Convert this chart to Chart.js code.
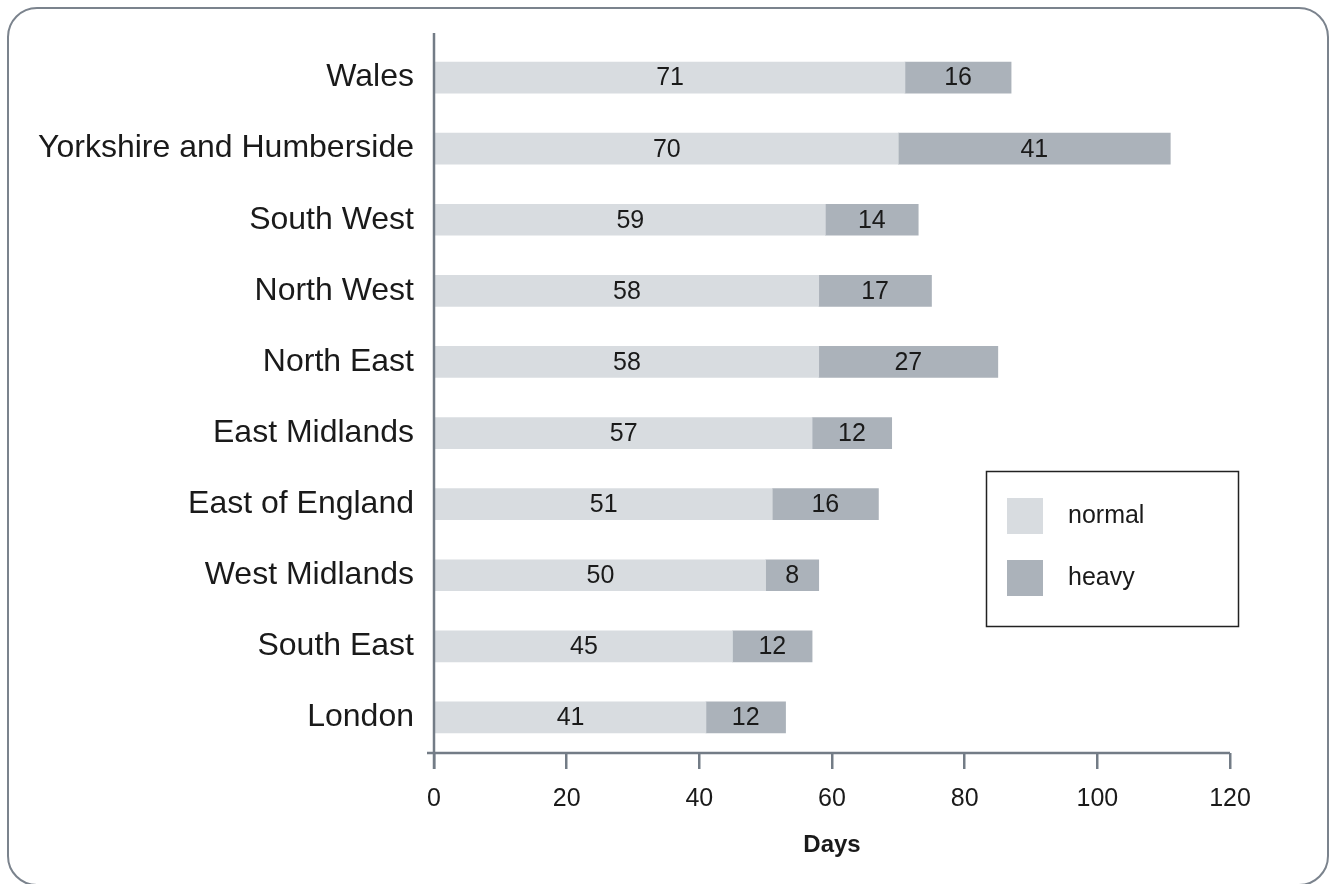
<!DOCTYPE html>
<html>
<head>
<meta charset="utf-8">
<script src="https://cdn.jsdelivr.net/npm/chart.js@4/dist/chart.umd.min.js"></script>
<style>
  html, body { margin: 0; padding: 0; background: #fff; overflow: hidden; }
  #frame {
    position: absolute; left: 7px; top: 7px; width: 1322px; height: 879px;
    border: 2px solid #7b838d; border-radius: 30px; box-sizing: border-box;
  }
  #wrap { position: absolute; left: 0; top: 0; width: 1330px; height: 884px; }
</style>
</head>
<body>
<div id="frame"></div>
<div id="wrap"><canvas id="chart" width="1330" height="884"></canvas></div>
<script>
// Regions, top to bottom
const regions = ['Wales', 'Yorkshire and Humberside', 'South West', 'North West', 'North East',
  'East Midlands', 'East of England', 'West Midlands', 'South East', 'London'];
// Days per region
const normalDays = [71, 70, 59, 58, 58, 57, 51, 50, 45, 41];
const heavyDays = [16, 41, 14, 17, 27, 12, 16, 8, 12, 12];
const xTicks = [0, 20, 40, 60, 80, 100, 120];

const AXIS = '#737c86';
const TEXT = '#1a1a1a';
const FONT = '"Liberation Sans", Arial, sans-serif';

// bar value labels, centred in each segment
const valueLabels = {
  id: 'valueLabels',
  afterDatasetsDraw(chart) {
    const ctx = chart.ctx;
    ctx.save();
    ctx.font = '25px ' + FONT;
    ctx.fillStyle = TEXT;
    ctx.textAlign = 'center';
    ctx.textBaseline = 'middle';
    chart.data.datasets.forEach((ds, i) => {
      chart.getDatasetMeta(i).data.forEach((el, j) => {
        ctx.fillText(String(ds.data[j]), (el.x + el.base) / 2, el.y + 1);
      });
    });
    ctx.restore();
  }
};

// axis lines and the boxed legend
const axesAndLegend = {
  id: 'axesAndLegend',
  afterDraw(chart) {
    const ctx = chart.ctx;
    const a = chart.chartArea;
    ctx.save();
    ctx.strokeStyle = AXIS;
    ctx.lineWidth = 2.5;
    ctx.beginPath();
    ctx.moveTo(a.left, 33);
    ctx.lineTo(a.left, a.bottom + 16);
    ctx.moveTo(a.left - 7, a.bottom);
    ctx.lineTo(a.right, a.bottom);
    ctx.stroke();

    // legend
    ctx.strokeStyle = '#222';
    ctx.lineWidth = 1.5;
    ctx.strokeRect(986.5, 471.5, 252, 155);
    ctx.font = '25px ' + FONT;
    ctx.textBaseline = 'middle';
    ctx.textAlign = 'left';
    chart.data.datasets.forEach((ds, i) => {
      const y = 498 + i * 62;
      ctx.fillStyle = ds.backgroundColor;
      ctx.fillRect(1007, y, 36, 36);
      ctx.fillStyle = TEXT;
      ctx.fillText(ds.label, 1068, y + 18);
    });
    ctx.restore();
  }
};

new Chart(document.getElementById('chart'), {
  type: 'bar',
  data: {
    labels: regions,
    datasets: [
      { label: 'normal', data: normalDays, backgroundColor: '#d8dce0', barThickness: 31 },
      { label: 'heavy', data: heavyDays, backgroundColor: '#abb2ba', barThickness: 31 }
    ]
  },
  options: {
    indexAxis: 'y',
    responsive: false,
    animation: false,
    layout: { padding: { top: 42, right: 100, left: 0, bottom: 0 } },
    plugins: { legend: { display: false }, tooltip: { enabled: false } },
    scales: {
      x: {
        stacked: true,
        min: 0, max: 120,
        afterBuildTicks: s => { s.ticks = xTicks.map(v => ({ value: v })); },
        afterFit: s => { s.height = 131; },
        border: { display: false },
        grid: { drawOnChartArea: false, drawTicks: true, tickLength: 16, color: AXIS, lineWidth: 2.5 },
        ticks: { color: TEXT, font: { family: FONT, size: 25 }, padding: 15, maxRotation: 0 },
        title: { display: true, text: 'Days', color: TEXT, font: { family: FONT, size: 24, weight: 'bold' }, padding: { top: 0, bottom: 24 } }
      },
      y: {
        stacked: true,
        afterFit: s => { s.width = 434; },
        border: { display: false },
        grid: { display: false },
        ticks: { color: TEXT, font: { family: FONT, size: 32 }, padding: 12 }
      }
    }
  },
  plugins: [valueLabels, axesAndLegend]
});
</script>
</body>
</html>
